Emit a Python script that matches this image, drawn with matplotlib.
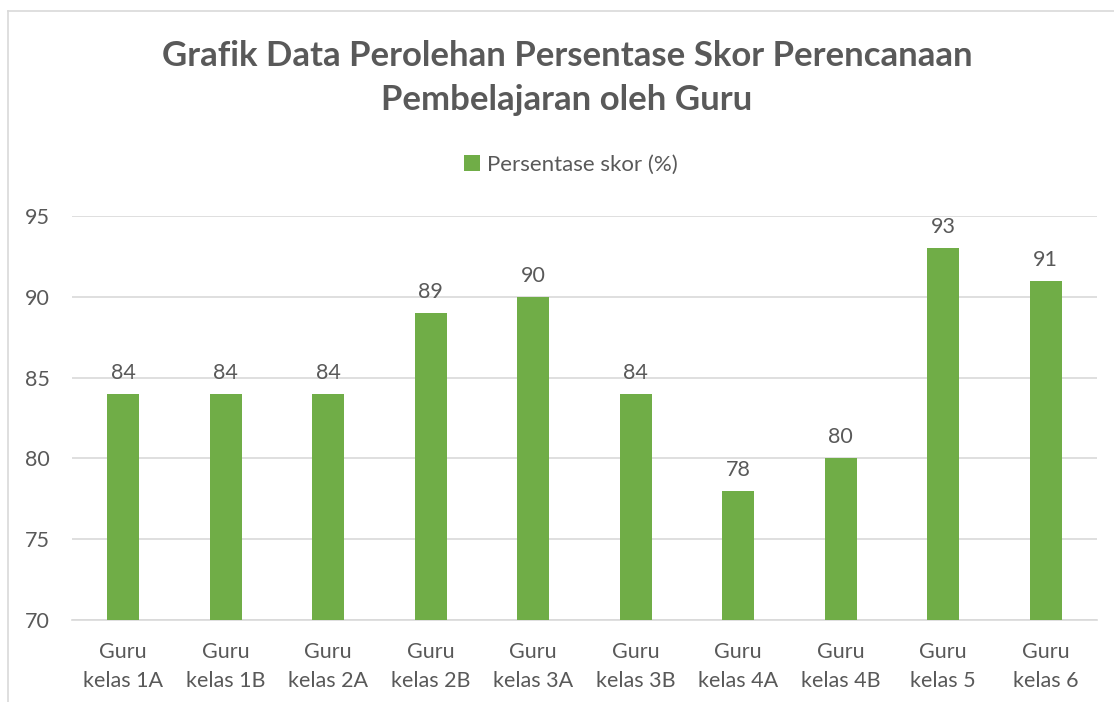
import matplotlib
matplotlib.use("Agg")
import matplotlib.pyplot as plt
from matplotlib.lines import Line2D
from matplotlib.patches import Patch

categories = ["Guru\nkelas 1A", "Guru\nkelas 1B", "Guru\nkelas 2A", "Guru\nkelas 2B",
              "Guru\nkelas 3A", "Guru\nkelas 3B", "Guru\nkelas 4A", "Guru\nkelas 4B",
              "Guru\nkelas 5", "Guru\nkelas 6"]
scores = [84, 84, 84, 89, 90, 84, 78, 80, 93, 91]
yticks = [70, 75, 80, 85, 90, 95]

TITLE = "Grafik Data Perolehan Persentase Skor Perencanaan\nPembelajaran oleh Guru"
LEGEND = "Persentase skor (%)"

GREEN = "#70AD47"
TEXT = "#595959"
GRID = "#D9D9D9"

plt.rcParams["font.family"] = ["Lato", "DejaVu Sans"]

W, H = 1114, 702
fig = plt.figure(figsize=(W / 100, H / 100), dpi=100)
ax = fig.add_axes([72 / W, 1 - 620 / H, (1097 - 72) / W, (620 - 216) / H])

x = range(len(categories))
bars = ax.bar(x, scores, width=0.31, color=GREEN, zorder=3)
for rect, v in zip(bars, scores):
    ax.annotate(f"{v}", (rect.get_x() + rect.get_width() / 2, v),
                xytext=(0, 8), textcoords="offset points",
                ha="center", va="bottom", fontsize=15.5, color=TEXT,
                annotation_clip=False)

ax.set_xlim(-0.5, len(categories) - 0.5)
ax.set_ylim(70, 95)
ax.set_yticks(yticks)
ax.set_xticks(list(x))
ax.set_xticklabels(categories, fontsize=15.5, color=TEXT, linespacing=1.55)
ax.tick_params(axis="y", labelsize=15.5, labelcolor=TEXT, length=0, pad=34)
ax.tick_params(axis="x", length=0, pad=16)
for lab in ax.get_yticklabels():
    lab.set_horizontalalignment("left")
ax.yaxis.grid(True, color=GRID, linewidth=1.2, zorder=0)
for s in ["top", "right", "left"]:
    ax.spines[s].set_visible(False)
ax.spines["bottom"].set_color(GRID)
ax.spines["bottom"].set_linewidth(1.2)

# title and legend
fig.text(567 / W, 1 - 78 / H, TITLE, ha="center", va="center", fontsize=25,
         fontweight="bold", color=TEXT, linespacing=1.5)
fig.legend(handles=[Patch(facecolor=GREEN, edgecolor="none", label=LEGEND)],
           loc="center", bbox_to_anchor=(571 / W, 1 - 165 / H), frameon=False,
           fontsize=16, labelcolor=TEXT, handlelength=0.7, handleheight=0.7,
           handletextpad=0.35)

# chart border (only left and top edges visible in the crop)
fig.add_artist(Line2D([7.5 / W, 7.5 / W], [0, 1 - 11 / H], color=GRID, lw=1.2,
                      transform=fig.transFigure))
fig.add_artist(Line2D([7.5 / W, 1], [1 - 11 / H, 1 - 11 / H], color=GRID, lw=1.2,
                      transform=fig.transFigure))

fig.savefig("out.png", dpi=100, facecolor="white")
